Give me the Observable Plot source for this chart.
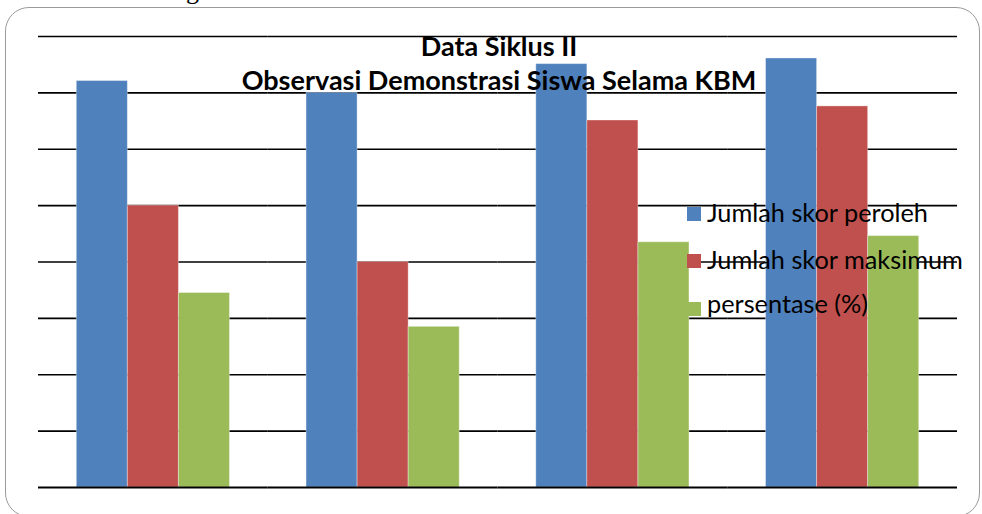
<!DOCTYPE html>
<html>
<head>
<meta charset="utf-8">
<script src="https://cdn.jsdelivr.net/npm/d3@7"></script>
<script src="https://cdn.jsdelivr.net/npm/@observablehq/plot@0.6"></script>
<style>
  html, body { margin: 0; padding: 0; background: #fff; }
  #wrap { position: relative; width: 982px; height: 514px; overflow: hidden; }
  #frame { position: absolute; left: 5px; top: 7px; width: 975px; height: 510px;
           border: 1.5px solid #9a9a9a; border-radius: 24px; box-sizing: border-box; }
  #chart { position: absolute; left: 0; top: 0; }
  .title { position: absolute; left: 0; width: 998px; text-align: center;
           font-family: Lato, "Open Sans", sans-serif; font-weight: bold; font-size: 27px; color: #000; line-height: 1; }
  .legtext { position: absolute; left: 707px; font-family: Lato, "Open Sans", sans-serif; font-size: 25.3px; color: #000; line-height: 1; white-space: nowrap; }
  .sw { position: absolute; left: 687px; width: 14px; height: 14px; }
  #frag { position: absolute; left: 186px; top: -22px; font-family: "Liberation Serif", serif; font-size: 26px; line-height: 1; }
</style>
</head>
<body>
<div id="wrap">
  <div id="frag">g</div>
  <div id="frame"></div>
  <div id="chart"></div>
  <div class="title" id="t1" style="top:32px"></div>
  <div class="title" id="t2" style="top:66px"></div>
  <div id="legend"></div>
</div>
<script>
const titleLines = ["Data Siklus II", "Observasi Demonstrasi Siswa Selama KBM"];
const categories = ["1", "2", "3", "4"];
const seriesNames = ["Jumlah skor peroleh", "Jumlah skor maksimum", "persentase (%)"];
const seriesColors = ["#4F81BD", "#C0504D", "#9BBB59"];
const skorPeroleh = [72.1, 70.0, 75.1, 76.1];
const skorMaksimum = [50.0, 40.0, 65.1, 67.6];
const persentase = [34.5, 28.5, 43.5, 44.6];
const gridTicks = [0, 10, 20, 30, 40, 50, 60, 70, 80];

const seriesValues = [skorPeroleh, skorMaksimum, persentase];
const data = [];
categories.forEach((c, i) => {
  seriesNames.forEach((s, j) => data.push({category: c, series: s, value: seriesValues[j][i]}));
});

const chart = Plot.plot({
  width: 982,
  height: 514,
  marginLeft: 38,
  marginRight: 25,
  marginTop: 36,
  marginBottom: 27,
  fx: {domain: categories, padding: 0, round: false, axis: null},
  x: {domain: seriesNames, paddingInner: 0, paddingOuter: 0.75, round: false, axis: null},
  y: {domain: [0, 80], axis: null},
  color: {domain: seriesNames, range: seriesColors},
  marks: [
    Plot.ruleY(gridTicks.filter(d => d > 0), {stroke: "#000", strokeWidth: 1.6}),
    Plot.barY(data, {fx: "category", x: "series", y: "value", fill: "series",
                     stroke: "#ffffff", strokeOpacity: 0.35, strokeWidth: 1}),
    Plot.ruleY([0], {stroke: "#000", strokeWidth: 2.2})
  ]
});
chart.style.background = "transparent";
document.getElementById("chart").appendChild(chart);

document.getElementById("t1").textContent = titleLines[0];
document.getElementById("t2").textContent = titleLines[1];

const legend = document.getElementById("legend");
const textTops = [200, 247, 291];
const swTops = [207, 254, 302];
seriesNames.forEach((s, i) => {
  const sw = document.createElement("div");
  sw.className = "sw";
  sw.style.top = swTops[i] + "px";
  sw.style.background = seriesColors[i];
  legend.appendChild(sw);
  const t = document.createElement("div");
  t.className = "legtext";
  t.style.top = textTops[i] + "px";
  t.textContent = s;
  legend.appendChild(t);
});
</script>
</body>
</html>
